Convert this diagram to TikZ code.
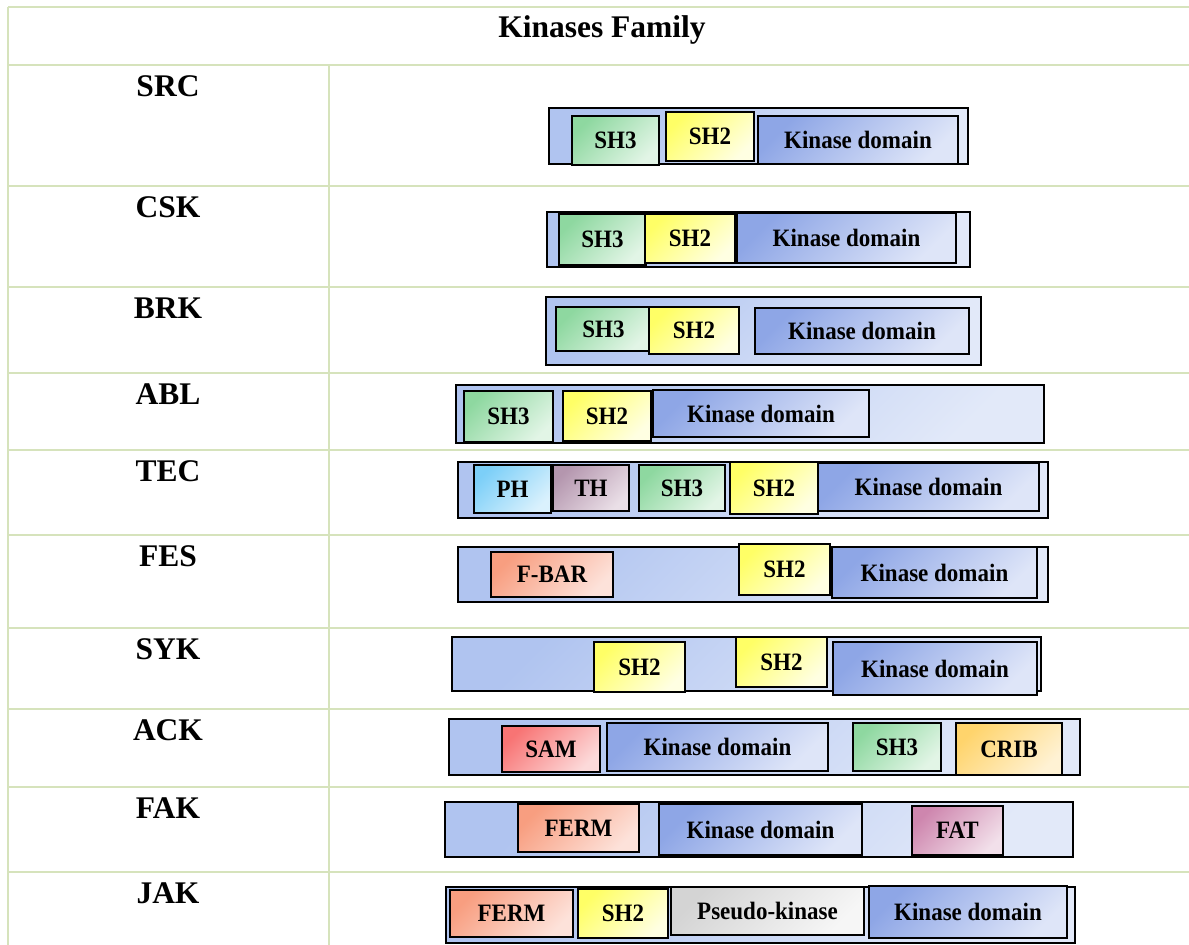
\documentclass[tikz,border=0pt]{standalone}
\usepackage{fontspec}
\setmainfont{Liberation Serif}
\newfontfamily\domfont{Liberation Serif}[FakeStretch=0.92]
\begin{document}
\begin{tikzpicture}[x=1pt,y=-1pt,
  grid/.style={draw=gridc, line width=1.5pt},
  rowlab/.style={anchor=base, font=\bfseries\fontsize{31.5}{36}\selectfont},
  bar/.style={draw=black, line width=1.3pt, rectangle, inner sep=0pt, top color=barA, bottom color=barB, shading angle=45},
  dom/.style 2 args={draw=black, line width=1.9pt, rectangle, inner sep=0pt, top color=#1, bottom color=#2, shading angle=45, font=\domfont\bfseries\fontsize{25}{28}\selectfont},
  sh3/.style={dom={sh3A}{sh3B}},
  sh2/.style={dom={sh2A}{sh2B}},
  kin/.style={dom={kinA}{kinB}},
  ph/.style={dom={phA}{phB}},
  th/.style={dom={thA}{thB}},
  fbar/.style={dom={fbA}{fbB}},
  sam/.style={dom={samA}{samB}},
  crib/.style={dom={cribA}{cribB}},
  fat/.style={dom={fatA}{fatB}},
  pseudo/.style={dom={psA}{psB}}
]
\definecolor{gridc}{HTML}{D6E3BC}
\definecolor{barA}{HTML}{B0C4F0}
\definecolor{barB}{HTML}{E2E9F9}
\definecolor{sh3A}{HTML}{8ED8A0}
\definecolor{sh3B}{HTML}{E2F5E6}
\definecolor{sh2A}{HTML}{FFFF66}
\definecolor{sh2B}{HTML}{FFFFE2}
\definecolor{kinA}{HTML}{8EA6E6}
\definecolor{kinB}{HTML}{DEE5F8}
\definecolor{phA}{HTML}{7CCFF8}
\definecolor{phB}{HTML}{DAF1FD}
\definecolor{thA}{HTML}{B496AE}
\definecolor{thB}{HTML}{EADFE7}
\definecolor{fbA}{HTML}{F89E80}
\definecolor{fbB}{HTML}{FDE2DA}
\definecolor{samA}{HTML}{F87474}
\definecolor{samB}{HTML}{FCDADA}
\definecolor{cribA}{HTML}{FFD46C}
\definecolor{cribB}{HTML}{FFF2D4}
\definecolor{fatA}{HTML}{CE86AE}
\definecolor{fatB}{HTML}{F2E0EA}
\definecolor{psA}{HTML}{D4D4D4}
\definecolor{psB}{HTML}{F6F6F6}
\newcommand\dbox[7]{\node[#6, minimum width=#4pt-#2pt, minimum height=#5pt-#3pt] (#1) at ({(#2+#4)/2},{(#3+#5)/2}) {#7};}
\useasboundingbox (0,0) rectangle (1189,945);
\fill[white] (0,0) rectangle (1189,945);
% table grid
\foreach \yy in {7,65,186,287,373,450,535,628,709,787,872}{
  \draw[grid] (8,\yy) -- (1189,\yy);
}
\draw[grid] (8,7) -- (8,945);
\draw[grid] (329,65) -- (329,945);
% header
\node[anchor=base, font=\bfseries\fontsize{31.5}{36}\selectfont] (head) at (602,37) {Kinases Family};
% row labels
\node[rowlab] (lsrc) at (168,96) {SRC};
\node[rowlab] (lcsk) at (168,217) {CSK};
\node[rowlab] (lbrk) at (168,318) {BRK};
\node[rowlab] (labl) at (168,404) {ABL};
\node[rowlab] (ltec) at (168,481) {TEC};
\node[rowlab] (lfes) at (168,566) {FES};
\node[rowlab] (lsyk) at (168,659) {SYK};
\node[rowlab] (lack) at (168,740) {ACK};
\node[rowlab] (lfak) at (168,818) {FAK};
\node[rowlab] (ljak) at (168,903) {JAK};
% SRC
\dbox{src}{549}{108}{968}{164}{bar}{}
\dbox{srcA}{572}{116}{659}{165}{sh3}{SH3}
\dbox{srcB}{666}{112}{754}{161}{sh2}{SH2}
\dbox{srcC}{758}{116}{958}{164}{kin}{Kinase domain}
% CSK
\dbox{csk}{547}{212}{970}{267}{bar}{}
\dbox{cskA}{559}{214}{646}{265}{sh3}{SH3}
\dbox{cskB}{645}{214}{735}{263}{sh2}{SH2}
\dbox{cskC}{737}{213}{956}{263}{kin}{Kinase domain}
% BRK
\dbox{brk}{546}{297}{981}{365}{bar}{}
\dbox{brkA}{556}{307}{651}{351}{sh3}{SH3}
\dbox{brkB}{649}{307}{739}{354}{sh2}{SH2}
\dbox{brkC}{755}{308}{969}{354}{kin}{Kinase domain}
% ABL
\dbox{abl}{456}{385}{1044}{443}{bar}{}
\dbox{ablA}{464}{391}{553}{442}{sh3}{SH3}
\dbox{ablB}{563}{391}{651}{441}{sh2}{SH2}
\dbox{ablC}{653}{390}{869}{437}{kin}{Kinase domain}
% TEC
\dbox{tec}{458}{462}{1048}{518}{bar}{}
\dbox{tecA}{474}{465}{551}{513}{ph}{PH}
\dbox{tecB}{553}{465}{629}{511}{th}{TH}
\dbox{tecC}{639}{465}{725}{511}{sh3}{SH3}
\dbox{tecD}{730}{462}{818}{514}{sh2}{SH2}
\dbox{tecE}{818}{463}{1039}{511}{kin}{Kinase domain}
% FES
\dbox{fes}{458}{547}{1048}{602}{bar}{}
\dbox{fesA}{491}{552}{613}{597}{fbar}{F-BAR}
\dbox{fesB}{739}{544}{830}{595}{sh2}{SH2}
\dbox{fesC}{832}{547}{1037}{598}{kin}{Kinase domain}
% SYK
\dbox{syk}{452}{637}{1041}{691}{bar}{}
\dbox{sykA}{594}{642}{685}{692}{sh2}{SH2}
\dbox{sykB}{736}{637}{827}{687}{sh2}{SH2}
\dbox{sykC}{833}{642}{1037}{695}{kin}{Kinase domain}
% ACK
\dbox{ack}{449}{719}{1080}{775}{bar}{}
\dbox{ackA}{502}{726}{600}{772}{sam}{SAM}
\dbox{ackB}{607}{723}{828}{771}{kin}{Kinase domain}
\dbox{ackC}{853}{723}{941}{771}{sh3}{SH3}
\dbox{ackD}{956}{723}{1062}{775}{crib}{CRIB}
% FAK
\dbox{fak}{445}{802}{1073}{857}{bar}{}
\dbox{fakA}{518}{804}{639}{852}{fbar}{FERM}
\dbox{fakB}{659}{804}{862}{855}{kin}{Kinase domain}
\dbox{fakC}{912}{806}{1003}{855}{fat}{FAT}
% JAK
\dbox{jak}{446}{887}{1075}{943}{bar}{}
\dbox{jakA}{450}{890}{573}{937}{fbar}{FERM}
\dbox{jakB}{578}{889}{668}{938}{sh2}{SH2}
\dbox{jakC}{671}{887}{864}{935}{pseudo}{Pseudo-kinase}
\dbox{jakD}{869}{886}{1067}{938}{kin}{Kinase domain}
\end{tikzpicture}
\end{document}
